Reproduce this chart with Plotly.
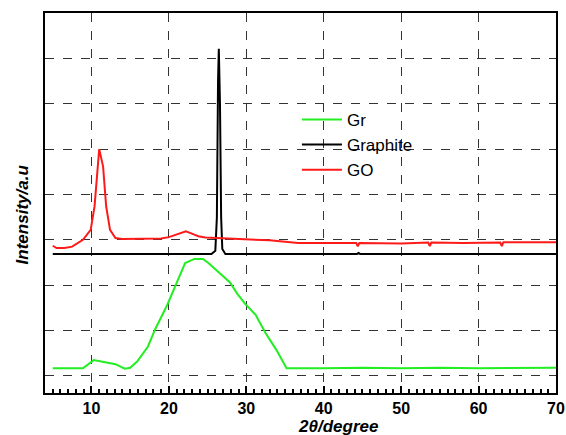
import plotly.graph_objects as go

# Data (y in grid units)
gr_x = [5.0, 8.9, 10.3, 11.25, 13.1, 14.3, 15.0, 15.9, 17.3, 18.2, 19.8, 21.0, 22.1, 23.3, 24.4, 25.1,
        26.5, 27.9, 28.8, 29.8, 31.2, 32.5, 33.9, 35.2, 40, 45, 50, 55, 60, 65, 70]
gr_y = [0.17, 0.17, 0.35, 0.32, 0.26, 0.16, 0.18, 0.32, 0.65, 1.02, 1.57, 2.05, 2.49, 2.58, 2.58, 2.49,
        2.27, 2.06, 1.82, 1.60, 1.35, 0.94, 0.57, 0.17, 0.17, 0.18, 0.17, 0.18, 0.17, 0.18, 0.18]

graphite_x = [5.0, 25.5, 26.0, 26.2, 26.35, 26.45, 26.6, 26.75, 26.9, 27.3, 44.3, 44.5, 44.7, 70.0]
graphite_y = [2.69, 2.69, 2.76, 3.5, 6.5, 7.21, 6.0, 3.5, 2.8, 2.69, 2.69, 2.71, 2.69, 2.69]

go_x = [5.0, 5.5, 6.5, 7.5, 8.9, 9.9, 10.4, 10.9, 11.0, 11.5, 11.9, 12.4, 13.1, 14.0, 17.0, 19.0, 20.0,
        21.4, 22.2, 22.8, 23.8, 24.7, 28.4, 33.0, 36.7, 44.2, 44.4, 44.6, 50.0, 53.5, 53.7, 53.9,
        58.0, 62.8, 63.0, 63.2, 70.0]
go_y = [2.87, 2.82, 2.82, 2.85, 3.0, 3.22, 3.74, 4.99, 5.0, 4.62, 3.74, 3.22, 3.04, 3.02, 3.03, 3.03, 3.06,
        3.15, 3.19, 3.15, 3.08, 3.05, 3.03, 2.99, 2.93, 2.93, 2.86, 2.93, 2.92, 2.94, 2.86, 2.94,
        2.93, 2.94, 2.86, 2.95, 2.95]

x_ticks = [10, 20, 30, 40, 50, 60, 70]

fig = go.Figure()
fig.add_trace(go.Scatter(x=gr_x, y=gr_y, mode="lines", name="Gr",
                         line=dict(color="#22ee22", width=2)))
fig.add_trace(go.Scatter(x=graphite_x, y=graphite_y, mode="lines", name="Graphite",
                         line=dict(color="black", width=2)))
fig.add_trace(go.Scatter(x=go_x, y=go_y, mode="lines", name="GO",
                         line=dict(color="#ff1a1a", width=2)))

fig.update_layout(
    width=566, height=435,
    margin=dict(l=45, r=10, t=13, b=42, autoexpand=False),
    paper_bgcolor="white", plot_bgcolor="white",
    font=dict(family="Arial, Liberation Sans", size=14, color="black"),
    showlegend=True,
    legend=dict(x=0.493, y=0.766, xanchor="left", yanchor="top", itemwidth=40,
                bgcolor="rgba(0,0,0,0)", font=dict(size=17), tracegroupgap=0),
    xaxis=dict(range=[4, 70], tickvals=x_ticks, ticktext=["<b>%d</b>" % v for v in x_ticks],
               automargin=False,
               showgrid=True, gridcolor="#333333", griddash="dash", gridwidth=1,
               showline=True, linecolor="black", linewidth=2, mirror=True,
               ticks="inside", ticklen=7, tickwidth=2, tickcolor="black",
               minor=dict(dtick=1, tick0=0, ticks="inside", ticklen=4, tickwidth=1.5,
                          tickcolor="black", showgrid=False),
               tickfont=dict(size=16, family="Arial"),
               zeroline=False),
    yaxis=dict(range=[-0.375, 8], dtick=1, tick0=0, showticklabels=False, automargin=False,
               showgrid=True, gridcolor="#333333", griddash="dash", gridwidth=1,
               showline=True, linecolor="black", linewidth=2, mirror=True,
               ticks="", zeroline=False),
)

fig.add_annotation(text="<b><i>2θ/degree</i></b>", xref="x", yref="paper",
                   x=41.8, y=-0.118, yanchor="bottom", showarrow=False,
                   font=dict(size=17, family="Arial"))
fig.add_annotation(text="<b><i>Intensity/a.u</i></b>", xref="paper", yref="paper",
                   x=-0.045, y=0.47, xanchor="center", yanchor="middle", textangle=-90,
                   showarrow=False, font=dict(size=17, family="Arial"))

fig.write_html("out.html")
